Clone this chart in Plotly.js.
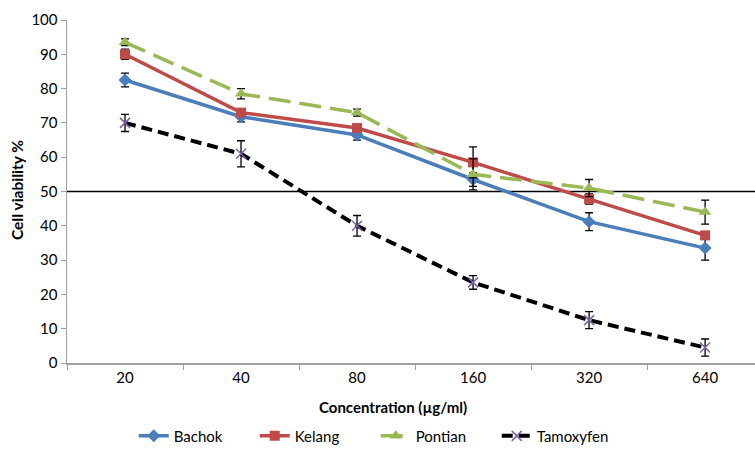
<!DOCTYPE html>
<html><head><meta charset="utf-8">
<script src="https://cdn.plot.ly/plotly-3.0.1.min.js"></script>
<style>body{margin:0;background:#fff}#c{width:755px;height:455px}</style>
</head><body><div id="c"></div>
<script>
const categories = ["20","40","80","160","320","640"];
const bachok = [82.5, 71.8, 66.5, 53.5, 41.2, 33.5];
const bachokErr = [2, 1.5, 1.5, 2, 2.6, 3.5];
const kelang = [90, 73, 68.5, 58.5, 47.8, 37.2];
const kelangErr = [1.5, 1, 1, 4.5, 1.5, 1];
const pontian = [93.5, 78.5, 73, 55, 51, 44];
const pontianErr = [1, 1.5, 1, 4.5, 2.5, 3.5];
const tamox = [70, 61, 40, 23.5, 12.5, 4.5];
const tamoxErr = [2.5, 3.8, 3, 2, 2.5, 2.5];
const threshold = 50;
const xTitle = "Concentration (µg/ml)";
const yTitle = "Cell viability %";

const font = "Lato, 'Open Sans', sans-serif";
function tr(name, y, err, color, dash, sym, size, mcolor, lw) {
  return {
    type: "scatter", mode: "lines+markers", name: name, x: categories, y: y,
    line: {color: color, width: lw, dash: dash},
    marker: {symbol: sym, size: size, color: mcolor || color, line: {width: sym === "x-thin" ? 1.5 : 0, color: mcolor || color}},
    error_y: {type: "data", array: err, visible: true, color: "#000", thickness: 1.3, width: 4}
  };
}
const data = [
  tr("Bachok", bachok, bachokErr, "#4a7ebb", "solid", "diamond", 10, null, 3.5),
  tr("Kelang", kelang, kelangErr, "#be4b48", "solid", "square", 10, null, 3.5),
  tr("Pontian", pontian, pontianErr, "#98b954", "22px,9px", "triangle-up", 11, null, 3.5),
  tr("Tamoxyfen", tamox, tamoxErr, "#000000", "11px,6px", "x-thin", 10, "#7e62a8", 4)
];
const layout = {
  width: 755, height: 455,
  margin: {l: 67, r: 0, t: 20, b: 92, autoexpand: false},
  paper_bgcolor: "#fff", plot_bgcolor: "#fff",
  font: {family: font, size: 15, color: "#000"},
  showlegend: true,
  legend: {orientation: "h", x: 0.097, xanchor: "left", y: -0.165, yanchor: "top", font: {size: 15},
           entrywidth: 76, entrywidthmode: "pixels", tracegroupgap: 0},
  xaxis: {
    type: "category", range: [-0.5, 5.43], automargin: false,
    showline: true, linecolor: "#a0a0a0", linewidth: 1.5,
    ticks: "outside", tickson: "boundaries", ticklen: 5, tickcolor: "#a0a0a0",
    showgrid: false, zeroline: false
  },
  yaxis: {
    range: [0, 100], dtick: 10, automargin: false,
    showline: true, linecolor: "#a0a0a0", linewidth: 1.5,
    ticks: "outside", ticklen: 5, tickcolor: "#a0a0a0",
    showgrid: false, zeroline: false
  },
  annotations: [
    {text: "<b>" + xTitle + "</b>", xref: "paper", yref: "paper", x: (393 - 67) / 688, y: (363 - 407) / 343,
     xanchor: "center", yanchor: "middle", showarrow: false, font: {size: 15}},
    {text: "<b>" + yTitle + "</b>", xref: "paper", yref: "paper", x: (17 - 67) / 688, y: (363 - 190) / 343,
     xanchor: "center", yanchor: "middle", showarrow: false, textangle: -90, font: {size: 15.5}}
  ],
  shapes: [{type: "line", xref: "paper", x0: 0, x1: 1, yref: "y", y0: threshold, y1: threshold, line: {color: "#000", width: 1.5}, layer: "below"}]
};
Plotly.newPlot("c", data, layout, {displayModeBar: false, staticPlot: true});
</script></body></html>
